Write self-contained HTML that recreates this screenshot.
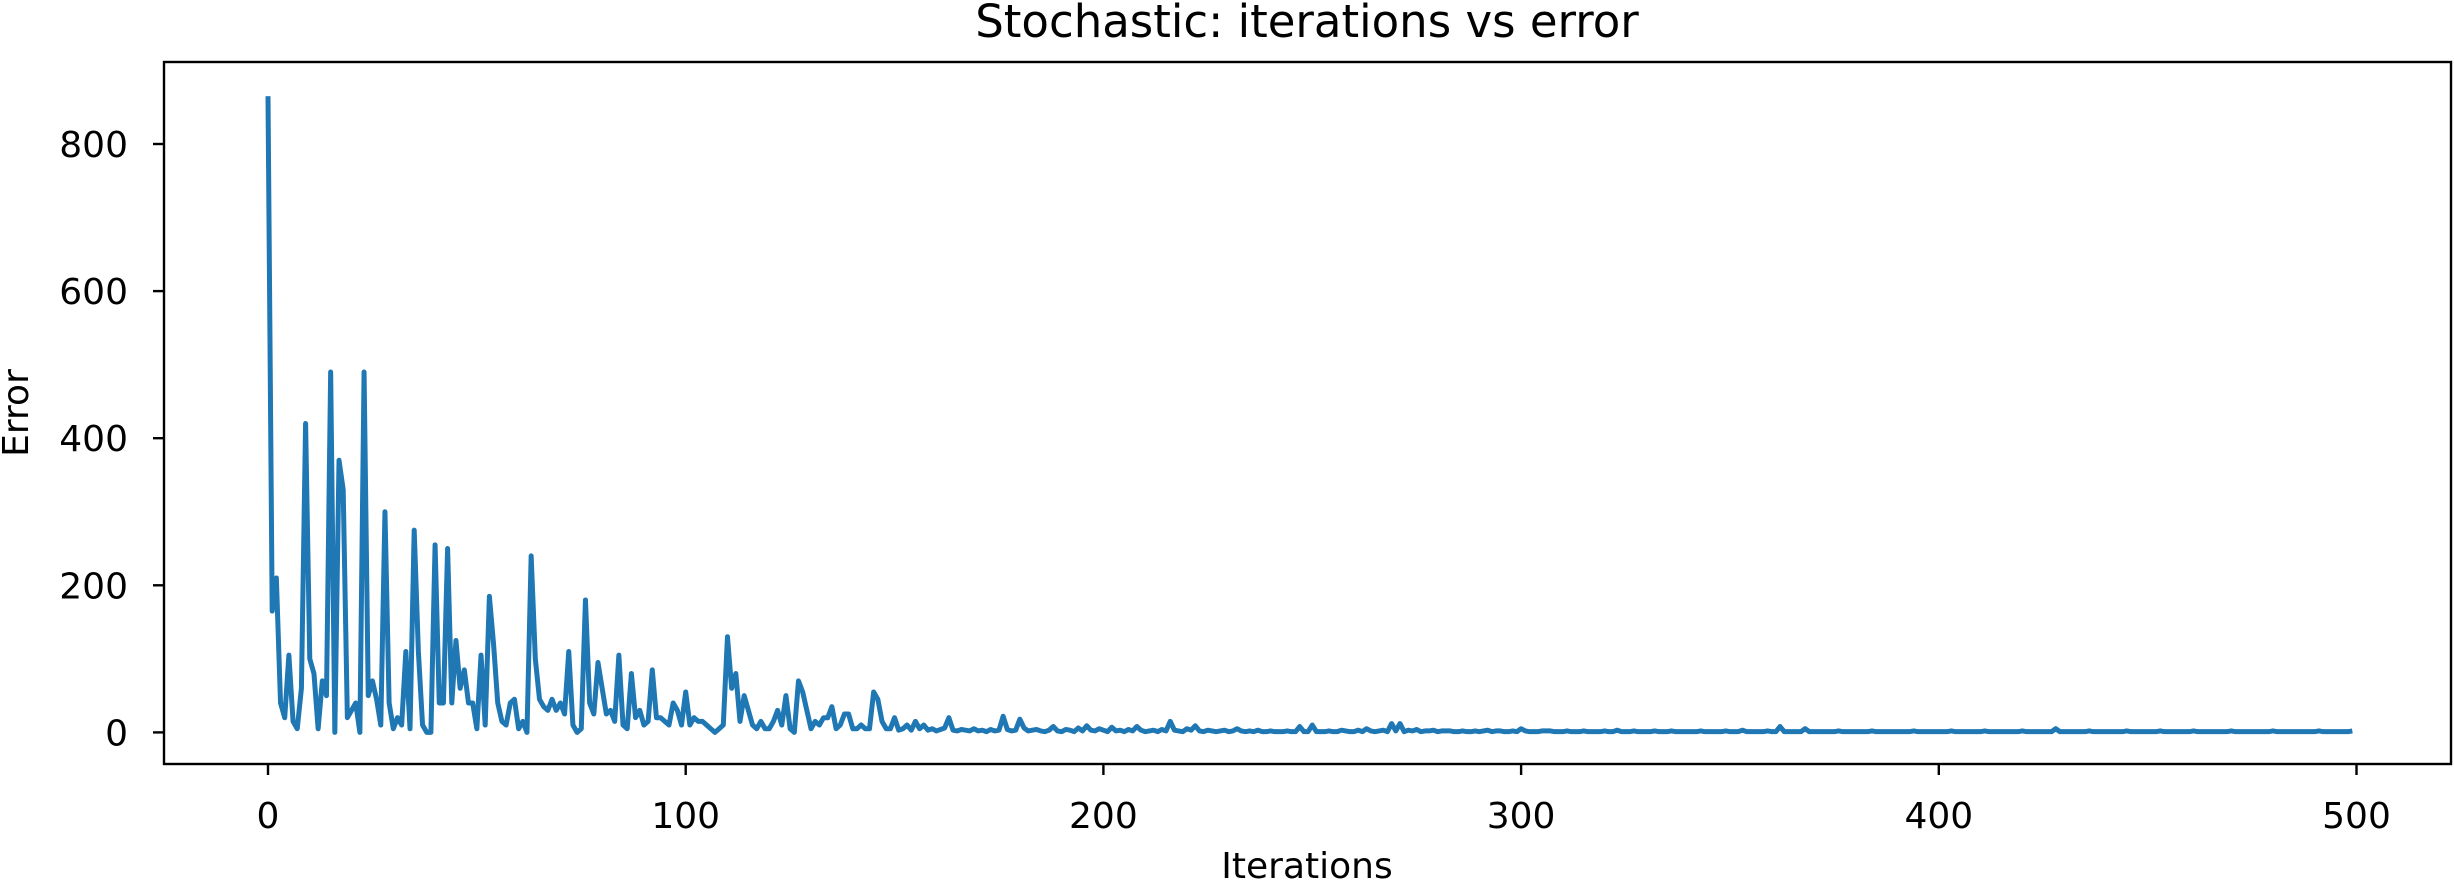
<!DOCTYPE html>
<html><head><meta charset="utf-8"><style>
html,body{margin:0;padding:0;background:#fff;}
svg{display:block;font-family:"DejaVu Sans","Liberation Sans",sans-serif;}
</style></head><body>
<svg id="chart" width="2454" height="883" viewBox="0 0 2454 883" xmlns="http://www.w3.org/2000/svg">
<rect width="2454" height="883" fill="#fff"/>
<text x="1307" y="37" font-size="45" text-anchor="middle">Stochastic: iterations vs error</text>
<g id="plot"></g>
<rect x="164" y="62" width="2287" height="702" fill="none" stroke="#000" stroke-width="2.4"/>
<text x="1307" y="878" font-size="36" text-anchor="middle">Iterations</text>
<text x="0" y="0" font-size="36" text-anchor="middle" transform="translate(28,413) rotate(-90)">Error</text>
</svg>
<script>
const errorsHead = [865,165,210,40,20,105,15,5,60,420,100,80,5,70,50,490,0,370,330,20,
30,40,0,490,50,70,45,10,300,40,5,20,10,110,5,275,110,10,0,0,
255,40,40,250,40,125,60,85,40,40,5,105,10,185,120,40,15,10,40,45,
5,15,0,240,100,45,35,30,45,30,40,25,110,10,0,5,180,40,25,95,
60,25,30,15,105,10,5,80,20,30,10,15,85,20,20,15,10,40,30,10,
55,10,20,15,15,10,5,0,5,10,130,60,80,15,50,30,10,5,15,5,
5,15,30,10,50,5,0,70,55,30,5,15,10,20,20,35,5,10,25,25,
5,5,10,5,5,55,45,15,5,5,20,3,5,10,3,15,5,10];
const errorsTail = [3,5,2,4,6,20,3,2,4,3,2,5,2,3,1,4,2,3,22,4,
2,3,18,6,2,3,4,2,1,3,8,2,1,4,3,1,6,2,9,3,
2,5,3,1,7,2,3,1,4,2,8,3,1,2,3,1,4,2,15,3,
2,1,5,3,9,2,1,3,2,1,2,3,1,2,5,2,1,2,1,3,
1,1,2,1,1,1,2,1,1,8,1,1,10,1,1,1,2,1,1,3,
2,1,1,3,1,5,2,1,2,3,1,12,2,12,1,3,2,4,1,2,
2,3,1,2,2,2,1,1,2,1,1,2,1,2,3,1,2,2,1,1,
2,1,5,2,1,1,1,2,2,2,1,1,1,2,1,1,1,2,1,1,
1,1,2,1,1,3,1,1,1,2,1,1,1,1,2,1,1,1,2,1,
1,1,1,1,1,2,1,1,1,1,1,2,1,1,1,3,1,1,1,1,
1,2,1,1,8,1,1,1,1,1,5,1,1,1,1,1,1,1,2,1,
1,1,1,1,1,1,2,1,1,1,1,1,1,1,1,1,2,1,1,1,
1,1,1,1,1,2,1,1,1,1,1,1,1,2,1,1,1,1,1,1,
1,1,2,1,1,1,1,1,1,1,5,1,1,1,1,1,1,1,2,1,
1,1,1,1,1,1,1,2,1,1,1,1,1,1,1,2,1,1,1,1,
1,1,1,2,1,1,1,1,1,1,1,1,2,1,1,1,1,1,1,1,
1,1,2,1,1,1,1,1,1,1,1,1,1,2,1,1,1,1,1,1,
1,2];
const errors = errorsHead.concat(errorsTail).slice(0,500);
const xTicks = [0,100,200,300,400,500];
const yTicks = [0,200,400,600,800];

const xScale = v => 268 + v * 4.177;
const yScale = v => 732.4 - v * 0.7355;
const NS = "http://www.w3.org/2000/svg";
const plot = document.getElementById('plot');

let d = '';
errors.forEach((v, i) => { d += (i ? 'L' : 'M') + xScale(i).toFixed(2) + ' ' + yScale(v).toFixed(2); });
const line = document.createElementNS(NS, 'path');


line.setAttribute('d', d);
line.setAttribute('fill', 'none');
line.setAttribute('stroke', '#1f77b4');
line.setAttribute('stroke-width', '5');
line.setAttribute('stroke-linejoin', 'round');
plot.appendChild(line);

xTicks.forEach(t => {
  const tk = document.createElementNS(NS, 'line');
  
  
  tk.setAttribute('x1', xScale(t)); tk.setAttribute('x2', xScale(t));
  tk.setAttribute('y1', 764); tk.setAttribute('y2', 775);
  tk.setAttribute('stroke', '#000'); tk.setAttribute('stroke-width', '2.4');
  plot.appendChild(tk);
  const lb = document.createElementNS(NS, 'text');
  
  
  lb.setAttribute('x', xScale(t)); lb.setAttribute('y', 828);
  lb.setAttribute('font-size', '36'); lb.setAttribute('text-anchor', 'middle');
  lb.textContent = t;
  plot.appendChild(lb);
});
yTicks.forEach(t => {
  const tk = document.createElementNS(NS, 'line');
  
  
  tk.setAttribute('x1', 153); tk.setAttribute('x2', 164);
  tk.setAttribute('y1', yScale(t)); tk.setAttribute('y2', yScale(t));
  tk.setAttribute('stroke', '#000'); tk.setAttribute('stroke-width', '2.4');
  plot.appendChild(tk);
  const lb = document.createElementNS(NS, 'text');
  
  
  lb.setAttribute('x', 128); lb.setAttribute('y', yScale(t) + 13);
  lb.setAttribute('font-size', '36'); lb.setAttribute('text-anchor', 'end');
  lb.textContent = t;
  plot.appendChild(lb);
});
</script>
</body></html>
